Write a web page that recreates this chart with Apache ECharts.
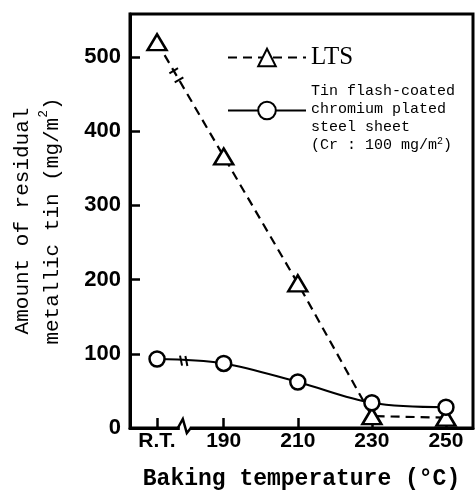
<!DOCTYPE html>
<html>
<head>
<meta charset="utf-8">
<script src="https://cdn.jsdelivr.net/npm/echarts@6/dist/echarts.min.js"></script>
<style>
  html, body { margin: 0; padding: 0; background: #fff; }
  #main { width: 475px; height: 498px; }
</style>
</head>
<body>
<div id="main"></div>
<script>
// temperature labels and where each sits on the (broken) x axis
const tempLabels = ['R.T.', '190', '210', '230', '250'];
const tempPos = [172, 190, 210, 230, 250];
const yTicks = [0, 100, 200, 300, 400, 500];
// residual metallic tin, mg/m2
const ltsValues = [520, 366, 195, 16, 14];
const tfsValues = [93, 87, 62, 34, 28];

const mono = '"Liberation Mono", "DejaVu Sans Mono", monospace';

const chart = echarts.init(document.getElementById('main'));

function pairs(vals) {
  return tempPos.map((x, i) => [x, vals[i]]);
}

const option = {
  animation: false,
  backgroundColor: '#fff',
  grid: {
    left: 130, right: 2, top: 14, bottom: 70,
    outerBoundsMode: 'none',
    containLabel: false,
    show: true, borderColor: '#000', borderWidth: 3
  },
  legend: {
    orient: 'vertical',
    left: 222, top: 40,
    itemWidth: 78, itemHeight: 22,
    itemGap: 4,
    selectedMode: false,
    data: [
      { name: 'LTS' },
      { name: 'TFS' }
    ],
    formatter: function (name) {
      if (name === 'LTS') return '{lts|LTS}';
      return '{gap| }\n{t|Tin flash-coated}\n{t|chromium plated}\n{t|steel sheet}\n{t|(Cr : 100 mg/m}{sup|2}{t|)}';
    },
    textStyle: {
      color: '#000',
      rich: {
        lts: { fontFamily: '"Liberation Serif", serif', fontSize: 25, color: '#000', lineHeight: 26 },
        gap: { fontSize: 1, lineHeight: 16 },
        t: { fontFamily: mono, fontSize: 15, color: '#000', lineHeight: 18 },
        sup: { fontFamily: mono, fontSize: 10, color: '#000', verticalAlign: 'top', lineHeight: 18, padding: [0, 0, 8, 0] }
      }
    }
  },
  xAxis: {
    type: 'value',
    min: 164.7, max: 257.3,
    name: 'Baking temperature (°C)',
    nameLocation: 'middle',
    nameGap: 40,
    nameTextStyle: { fontFamily: mono, fontSize: 23, fontWeight: 'bold', color: '#000' },
    axisLine: { show: true, lineStyle: { color: '#000', width: 3 } },
    axisTick: { show: true, inside: true, length: 10, customValues: tempPos, lineStyle: { color: '#000', width: 2.5 } },
    axisLabel: {
      customValues: tempPos,
      margin: 3,
      fontFamily: '"Liberation Sans", Arial, sans-serif',
      fontSize: 21, fontWeight: 'bold', color: '#000',
      formatter: function (v) {
        const i = tempPos.indexOf(v);
        return i >= 0 ? tempLabels[i] : '';
      }
    },
    splitLine: { show: false }
  },
  yAxis: {
    type: 'value',
    min: 0, max: 558,
    name: 'Amount of residual\nmetallic tin (mg/m{sup|2})',
    nameLocation: 'middle',
    nameRotate: 90,
    nameGap: 63,
    nameTextStyle: {
      fontFamily: mono, fontSize: 21, color: '#000', lineHeight: 30,
      rich: {
        sup: { fontFamily: mono, fontSize: 13, color: '#000', verticalAlign: 'top', padding: [0, 0, 10, 0] }
      }
    },
    axisLine: { show: true, lineStyle: { color: '#000', width: 3 } },
    axisTick: { show: true, inside: true, length: 10, customValues: yTicks, lineStyle: { color: '#000', width: 2.5 } },
    axisLabel: {
      customValues: yTicks,
      margin: 9,
      fontFamily: '"Liberation Sans", Arial, sans-serif',
      fontSize: 22, fontWeight: 'bold', color: '#000'
    },
    splitLine: { show: false }
  },
  series: [
    {
      name: 'LTS',
      type: 'line',
      data: pairs(ltsValues),
      symbol: 'triangle',
      symbolSize: [19, 16],
      itemStyle: { color: '#fff', borderColor: '#000', borderWidth: 2.5 },
      lineStyle: { color: '#000', width: 2.2, type: [9, 6] },
      z: 3
    },
    {
      name: 'TFS',
      type: 'line',
      data: pairs(tfsValues),
      smooth: 0.35,
      symbol: 'circle',
      symbolSize: 15,
      itemStyle: { color: '#fff', borderColor: '#000', borderWidth: 2.5 },
      lineStyle: { color: '#000', width: 2 },
      z: 4
    }
  ]
};

chart.setOption(option);

// break marks: axis zigzag and line breaks, placed through the chart's own scales
function px(x, y) {
  return chart.convertToPixel({ gridIndex: 0 }, [x, y]);
}
function lerp(a, b, t) {
  return [a[0] + (b[0] - a[0]) * t, a[1] + (b[1] - a[1]) * t];
}
const g = [];
const zz = px(179.5, 0);
g.push({ type: 'rect', shape: { x: zz[0] - 5, y: zz[1] - 2, width: 10, height: 4 }, style: { fill: '#fff' }, z: 50 });
g.push({
  type: 'polyline', z: 51,
  shape: { points: [[zz[0] - 7, zz[1]], [zz[0] - 2, zz[1] - 9], [zz[0] + 2, zz[1] + 5], [zz[0] + 6, zz[1]]] },
  style: { stroke: '#000', lineWidth: 2.5, fill: null }
});
// LTS dashed break
const a1 = px(tempPos[0], ltsValues[0]), b1 = px(tempPos[1], ltsValues[1]);
const ang1 = Math.atan2(b1[1] - a1[1], b1[0] - a1[0]);
const nx = -Math.sin(ang1), ny = Math.cos(ang1);
[0.25, 0.33].forEach(function (t) {
  const p = lerp(a1, b1, t);
  g.push({ type: 'line', z: 51, shape: { x1: p[0] - nx * 5, y1: p[1] - ny * 5, x2: p[0] + nx * 5, y2: p[1] + ny * 5 }, style: { stroke: '#000', lineWidth: 2 } });
});
// TFS solid break
const a2 = px(tempPos[0], tfsValues[0]), b2 = px(tempPos[1], tfsValues[1]);
[0.36, 0.44].forEach(function (t) {
  const p = lerp(a2, b2, t);
  g.push({ type: 'line', z: 51, shape: { x1: p[0] - 1, y1: p[1] - 5, x2: p[0] + 1, y2: p[1] + 5 }, style: { stroke: '#000', lineWidth: 2 } });
});
chart.setOption({ graphic: g });
</script>
</body>
</html>
